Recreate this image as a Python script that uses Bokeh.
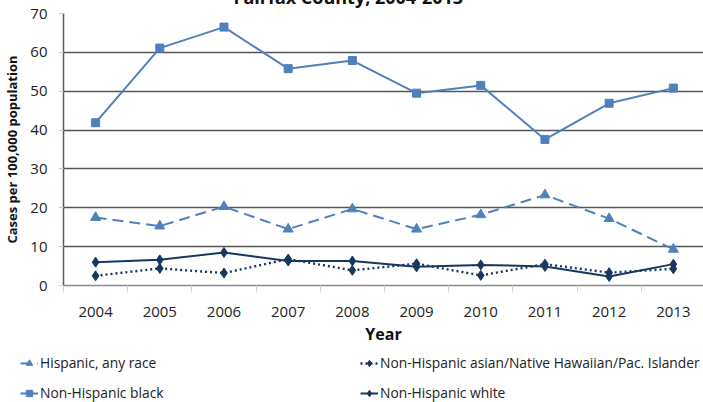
from bokeh.plotting import figure
from bokeh.layouts import column
from bokeh.models import FixedTicker, Legend, LegendItem, Range1d
from bokeh.embed import file_html
from bokeh.resources import INLINE

# Rates per 100,000 population by race/ethnicity, Fairfax County
years = [2004, 2005, 2006, 2007, 2008, 2009, 2010, 2011, 2012, 2013]
hispanic = [17.5, 15.3, 20.3, 14.5, 19.7, 14.5, 18.2, 23.3, 17.2, 9.3]
black = [41.9, 61.1, 66.5, 55.8, 57.9, 49.5, 51.5, 37.6, 46.9, 50.8]
asian = [2.5, 4.4, 3.2, 6.8, 3.9, 5.6, 2.6, 5.5, 3.3, 4.3]
white = [6.0, 6.6, 8.5, 6.3, 6.3, 4.8, 5.3, 4.9, 2.3, 5.5]
y_ticks = [0, 10, 20, 30, 40, 50, 60, 70]

series_names = ["Hispanic, any race", "Non-Hispanic black",
                "Non-Hispanic asian/Native Hawaiian/Pac. Islander", "Non-Hispanic white"]

FONT = "Open Sans"
LIGHT = "#4f81bd"
NAVY = "#17375e"
HIDDEN_TOP = 23   # the title row sits mostly above the top edge of the page

styles = {
    "hisp": dict(line=dict(line_color=LIGHT, line_width=2, line_dash="11 6"),
                 mark=dict(marker="triangle", size=10, fill_color=LIGHT, line_color=LIGHT)),
    "black": dict(line=dict(line_color=LIGHT, line_width=2),
                  mark=dict(marker="square", size=8, fill_color=LIGHT, line_color=LIGHT)),
    "asian": dict(line=dict(line_color=NAVY, line_width=2.4, line_dash="2 3"),
                  mark=dict(marker="diamond", size=10, fill_color=NAVY, line_color=NAVY)),
    "white": dict(line=dict(line_color=NAVY, line_width=2),
                  mark=dict(marker="diamond", size=10, fill_color=NAVY, line_color=NAVY)),
}
series = [("hisp", hispanic), ("black", black), ("asian", asian), ("white", white)]

# ---------------- main chart ----------------
p = figure(width=703, height=347 + HIDDEN_TOP, output_backend="svg", toolbar_location=None,
           x_range=Range1d(2003.5, 2013.47), y_range=Range1d(0, 70),
           min_border_left=62, min_border_right=0, min_border_top=0,
           min_border_bottom=60, title="Fairfax County, 2004-2013")
p.frame_align = False
p.outline_line_color = None
p.background_fill_color = "white"
p.border_fill_color = "white"

p.title.align = "left"
p.title.offset = 170
p.title.text_font = FONT
p.title.text_font_size = "18px"
p.title.text_font_style = "bold"
p.title.text_color = "#111111"
p.title.standoff = 10

# x axis: labels at year centres, small ticks between categories
p.xaxis.ticker = FixedTicker(ticks=years, minor_ticks=[y - 0.5 for y in years] + [2013.5])
p.xaxis.major_tick_line_color = None
p.xaxis.major_tick_out = 0
p.xaxis.major_tick_in = 0
p.xaxis.minor_tick_line_color = "#d0d0d0"
p.xaxis.minor_tick_out = 6
p.xaxis.minor_tick_in = 0
p.xaxis.axis_line_color = "#8c8c8c"
p.xaxis.axis_line_width = 1.5
p.xaxis.major_label_standoff = 15
p.xaxis.major_label_text_font = FONT
p.xaxis.major_label_text_font_size = "15px"
p.xaxis.major_label_text_color = "#222222"
p.xaxis.axis_label = "Year"
p.xaxis.axis_label_text_font = FONT
p.xaxis.axis_label_text_font_size = "16px"
p.xaxis.axis_label_text_font_style = "bold"
p.xaxis.axis_label_text_color = "#111111"
p.xaxis.axis_label_standoff = 3

# y axis
p.yaxis.ticker = FixedTicker(ticks=y_ticks)
p.yaxis.minor_tick_line_color = None
p.yaxis.major_tick_line_color = "#d0d0d0"
p.yaxis.major_tick_out = 5
p.yaxis.major_tick_in = 0
p.yaxis.axis_line_color = "#5a5a5a"
p.yaxis.axis_line_width = 1.5
p.yaxis.major_label_standoff = 11
p.yaxis.major_label_text_font = FONT
p.yaxis.major_label_text_font_size = "15px"
p.yaxis.major_label_text_color = "#222222"
p.yaxis.axis_label = "Cases per 100,000 population"
p.yaxis.axis_label_text_font = FONT
p.yaxis.axis_label_text_font_size = "13px"
p.yaxis.axis_label_text_font_style = "bold"
p.yaxis.axis_label_text_color = "#111111"
p.yaxis.axis_label_standoff = 6

p.xgrid.grid_line_color = None
p.ygrid.grid_line_color = "#555555"
p.ygrid.grid_line_width = 1.3

for key, vals in series:
    p.line(years, vals, **styles[key]["line"])
    p.scatter(years, vals, **styles[key]["mark"])

# ---------------- legend strip under the chart ----------------
# same series, drawn outside this strip's visible range so only the legend glyphs show
lg = figure(width=703, height=55, output_backend="svg", toolbar_location=None,
            min_border=0, x_axis_location=None, y_axis_location=None,
            x_range=Range1d(0, 1), y_range=Range1d(0, 1))
lg.frame_align = False
lg.outline_line_color = None
lg.background_fill_color = "white"
lg.border_fill_color = "white"
lg.xgrid.grid_line_color = None
lg.ygrid.grid_line_color = None

items = {}
for (key, vals), name in zip(series, series_names):
    r_line = lg.line(years, vals, **styles[key]["line"])
    r_mark = lg.scatter(years, vals, **styles[key]["mark"])
    items[key] = LegendItem(label=name, renderers=[r_line, r_mark])

def make_legend(entries, loc):
    return Legend(items=entries, location=loc, orientation="vertical",
                  label_text_font=FONT, label_text_font_size="13.8px", label_text_color="#222222",
                  glyph_width=18, glyph_height=16, label_height=16, label_standoff=2,
                  spacing=11, padding=0, margin=0,
                  border_line_color=None, background_fill_alpha=0)

lg.add_layout(make_legend([items["hisp"], items["black"]], (20, 0)), "center")
lg.add_layout(make_legend([items["asian"], items["white"]], (360, 0)), "center")

layout = column(p, lg, spacing=0, margin=(-HIDDEN_TOP, 0, 0, 0))
open("out.html", "w").write(file_html(layout, INLINE))
